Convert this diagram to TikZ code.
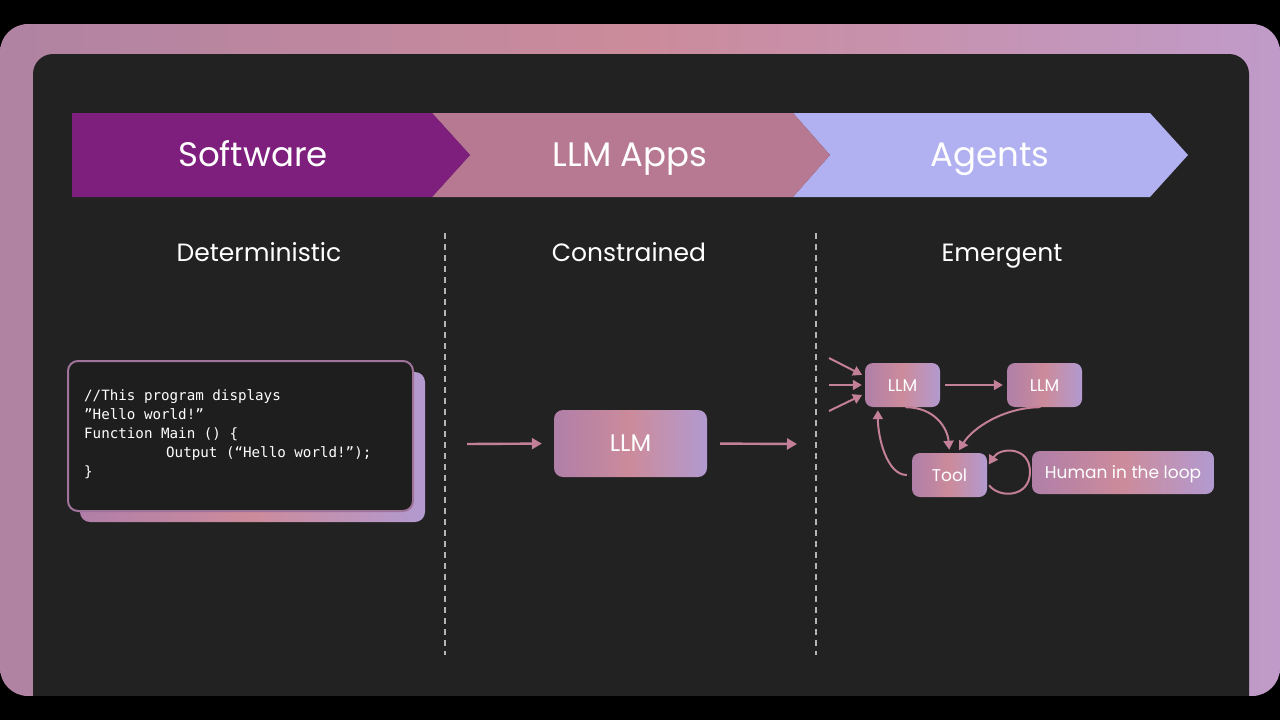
\documentclass[tikz,border=0pt]{standalone}
\usepackage{fontspec}
\setmainfont{Poppins}
\newfontfamily\codefont{DejaVu Sans Mono}
\usetikzlibrary{arrows.meta}
\definecolor{oL}{HTML}{B083A3}
\definecolor{oM}{HTML}{CB8B9B}
\definecolor{oR}{HTML}{C09BC9}
\definecolor{panel}{HTML}{222222}
\definecolor{codebg}{HTML}{1E1E1E}
\definecolor{cSoft}{HTML}{7E1F7E}
\definecolor{cApps}{HTML}{B77992}
\definecolor{cAgent}{HTML}{B1B0F0}
\definecolor{gL}{HTML}{B07FA8}
\definecolor{gM}{HTML}{CC8B9B}
\definecolor{gR}{HTML}{B29AD0}
\definecolor{arrc}{HTML}{C38098}
\definecolor{dashc}{HTML}{B5B5B5}
\definecolor{codeborder}{HTML}{A0739A}
\tikzset{
  gradfill/.style={left color=gL, right color=gR, middle color=gM},
  gradbox/.style={gradfill, rounded corners=9pt, inner sep=0pt, text=white, text depth=0pt},
  bannertext/.style={text=white, font=\fontsize{34}{36}\selectfont, text height=24pt, text depth=0pt, inner sep=0pt},
  headtext/.style={text=white, font=\fontsize{25}{28}\selectfont, text height=17.5pt, text depth=0pt, inner sep=0pt},
  arr/.style={draw=arrc, line width=2.4pt, -{Triangle[length=10pt,width=11pt]}},
  sarr/.style={draw=arrc, line width=2pt, -{Triangle[length=9pt,width=10pt]}},
  divider/.style={draw=dashc, line width=1.4pt, dash pattern=on 6pt off 5pt},
}
\begin{document}
\begin{tikzpicture}[x=1pt,y=-1pt]
\useasboundingbox (0,0) rectangle (1280,720);
\fill[black] (0,0) rectangle (1280,720);
\shade[left color=oL, right color=oR, middle color=oM, rounded corners=28pt] (0,24) rectangle (1280,696);
\fill[panel, rounded corners=20pt] (33,54) rectangle (1249,760);
\fill[black] (0,696) rectangle (1280,720);

% banner
\fill[cAgent] (793,113) -- (1150,113) -- (1188,155) -- (1150,197) -- (793,197) -- (830,155) -- cycle;
\fill[cApps] (432,113) -- (793,113) -- (830,155) -- (793,197) -- (432,197) -- (470,155) -- cycle;
\fill[cSoft] (72,113) -- (432,113) -- (470,155) -- (432,197) -- (72,197) -- cycle;
\node[bannertext] (tSoft) at (253,154.5) {Software};
\node[bannertext] (tApps) at (630,154.5) {LLM Apps};
\node[bannertext] (tAgent) at (990,154.5) {Agents};

% headings
\node[headtext] (hDet) at (259,253) {Deterministic};
\node[headtext] (hCon) at (629,253) {Constrained};
\node[headtext] (hEme) at (1002,253) {Emergent};

% dividers
\coordinate (d1t) at (445,233); \coordinate (d1b) at (445,655);
\coordinate (d2t) at (816,233); \coordinate (d2b) at (816,655);
\draw[divider] (d1t) -- (d1b);
\draw[divider] (d2t) -- (d2b);

% code box
\shade[gradfill, rounded corners=10pt] (80,372) rectangle (425,522);
\draw[codeborder, fill=codebg, line width=2pt, rounded corners=10pt] (68,361) rectangle (413,511);
\node[anchor=north west, inner sep=0pt, text=white, align=left,
      font=\codefont\fontsize{14.2}{19}\selectfont] (code) at (84,389)
  {//This program displays\\
   ”Hello world!”\\
   Function Main () \{\\
   \hspace*{82pt}Output (“Hello world!”);\\
   \}};

% middle
\node[gradbox, minimum width=153pt, minimum height=67pt, text height=16.8pt, font=\fontsize{24}{28}\selectfont] (llmB) at (630.5,443.5) {LLM};
\coordinate (inL) at (467,444);
\coordinate (outR) at (797,444);
\draw[arr, shorten >=12pt] (inL) -- (llmB.west);
\draw[arr, shorten <=13pt] (llmB.east) -- (outR);

% agents
\tikzset{agentnode/.style={gradbox, minimum width=75pt, minimum height=44pt, rounded corners=8pt, text height=12pt, font=\fontsize{17}{20}\selectfont}}
\node[agentnode] (L1) at (902.5,385) {LLM};
\node[agentnode] (L2) at (1044.5,385) {LLM};
\node[agentnode] (Tool) at (949.5,475) {Tool};
\node[agentnode, minimum width=182pt, minimum height=43pt] (Hum) at (1123,472.5) {Human in the loop};

\coordinate (i1) at (829,358);
\coordinate (i2) at (829,385);
\coordinate (i3) at (829,411);
\draw[sarr, shorten >=3pt] (i1) -- (L1.167);
\draw[sarr, shorten >=3pt] (i2) -- (L1.west);
\draw[sarr, shorten >=3pt] (i3) -- (L1.193);
\draw[sarr, shorten <=5pt, shorten >=4pt] (L1.east) -- (L2.west);

\draw[sarr, shorten <=3pt, shorten >=3pt] (L1.south) .. controls +(32,0) and +(-2,-25) .. (Tool.north);
\draw[sarr, shorten <=4pt, shorten >=3pt] (L2.south) .. controls +(-40,0) and +(15,-25) .. (Tool.70);
\draw[sarr, shorten <=5pt, shorten >=3pt] (Tool.west) .. controls +(-25,0) and +(0,30) .. (L1.222);
\coordinate (loopR) at (1030,472);
\draw[sarr, shorten <=3pt, shorten >=3pt] (Tool.-12) .. controls (1000,499) and (1030,497) .. (loopR) .. controls (1030,446) and (1000,447) .. (Tool.12);
\end{tikzpicture}
\end{document}
